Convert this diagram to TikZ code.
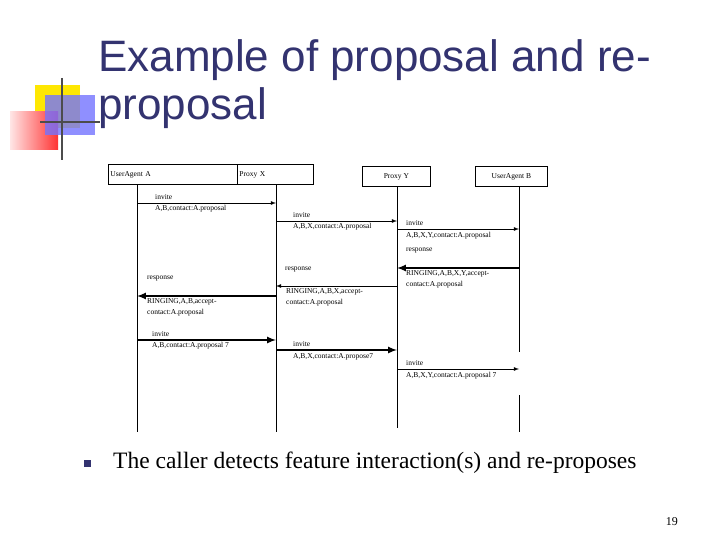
\documentclass[tikz,border=0pt]{standalone}
\usepackage{fontspec}
\setmainfont{Liberation Serif}
\newfontfamily\titlefont{Liberation Sans}
\begin{document}
\begin{tikzpicture}[x=1pt,y=-1pt,
  box/.style={draw,thick,minimum height=20pt,inner sep=2pt,font=\fontsize{7.5}{8}\selectfont},
  lab/.style={anchor=west,inner sep=0pt,font=\fontsize{7.5}{8}\selectfont},
  msg/.style={-latex,line width=0.8pt},
  tmsg/.style={-latex,line width=2pt},
  life/.style={line width=0.8pt}]
\useasboundingbox (0,0) rectangle (720,540);
% decoration
\fill[yellow!90!orange] (35,85) rectangle (80,128);
\shade[left color=red!10,right color=red!80] (10,112) rectangle (58,150);
\fill[blue!55!white,opacity=0.8] (45,95) rectangle (95,135);
\draw[line width=1.2pt,black!70] (62,78) -- (62,160);
\draw[line width=1.2pt,black!70] (40,122) -- (100,122);
\node[anchor=west,inner sep=0pt,font=\titlefont\fontsize{44}{48}\selectfont,text=blue!30!black!80] (t1) at (98,60) {Example of proposal and re-};
\node[anchor=west,inner sep=0pt,font=\titlefont\fontsize{44}{48}\selectfont,text=blue!30!black!80] (t2) at (98,108) {proposal};
% boxes
\node[box,anchor=north west,minimum width=129pt,text width=125pt,align=left] (A) at (108,164) {UserAgent A};
\node[box,anchor=north west,minimum width=76pt,text width=72pt,align=left] (X) at (237,164) {Proxy X};
\node[box,anchor=north west,minimum width=68pt] (Y) at (362,166) {Proxy Y};
\node[box,anchor=north west,minimum width=72pt] (B) at (475,166) {UserAgent B};
% lifelines
\coordinate (a0) at (137,185); \coordinate (a1) at (137,432);
\coordinate (x0) at (276,185); \coordinate (x1) at (276,432);
\coordinate (y0) at (397,187); \coordinate (y1) at (397,428);
\coordinate (b0) at (519,187); \coordinate (b1) at (519,352);
\coordinate (b2) at (519,395); \coordinate (b3) at (519,432);
\draw[life] (a0)--(a1); \draw[life] (x0)--(x1); \draw[life] (y0)--(y1);
\draw[life] (b0)--(b1); \draw[life] (b2)--(b3);
% messages
\foreach \n/\xa/\xb/\yy/\s in {m1/137/276/203/msg, m2/276/397/221/msg, m3/397/519/229/msg,
  m5/519/397/268/tmsg, m6/397/276/286/msg, m7/276/137/296/tmsg,
  m8/137/276/340/tmsg, m9/276/397/350/tmsg, m10/397/519/369/msg}{
  \coordinate (\n s) at (\xa,\yy); \coordinate (\n e) at (\xb,\yy);
  \draw[\s] (\n s) -- (\n e);}
\node[lab] (l1) at (155,197) {invite};
\node[lab] (l1b) at (155,209) {A,B,contact:A.proposal};
\node[lab] (l2) at (293,215) {invite};
\node[lab] (l2b) at (293,227) {A,B,X,contact:A.proposal};
\node[lab] (l3) at (406,223) {invite};
\node[lab] (l3b) at (406,236) {A,B,X,Y,contact:A.proposal};
\node[lab] (l4) at (406,251) {response};
\node[lab] (l5) at (406,274) {RINGING,A,B,X,Y,accept-};
\node[lab] (l5b) at (406,285) {contact:A.proposal};
\node[lab] (l6) at (285,270) {response};
\node[lab] (l6b) at (286,292) {RINGING,A,B,X,accept-};
\node[lab] (l6c) at (286,303) {contact:A.proposal};
\node[lab] (l7) at (147,279) {response};
\node[lab] (l7b) at (147,302) {RINGING,A,B,accept-};
\node[lab] (l7c) at (147,313) {contact:A.proposal};
\node[lab] (l8) at (152,334) {invite};
\node[lab] (l8b) at (152,346) {A,B,contact:A.proposal 7};
\node[lab] (l9) at (293,344) {invite};
\node[lab] (l9b) at (293,357) {A,B,X,contact:A.propose7};
\node[lab] (l10) at (406,363) {invite};
\node[lab] (l10b) at (406,376) {A,B,X,Y,contact:A.proposal 7};
% bullet
\fill[blue!30!black!80] (84,460) rectangle (91,467) node (bul) {};
\node[anchor=west,inner sep=0pt,font=\fontsize{23.5}{26}\selectfont] (txt) at (113,463) {The caller detects feature interaction(s) and re-proposes};
\node[anchor=east,inner sep=0pt,font=\fontsize{12}{14}\selectfont] (pg) at (678,522) {19};
\end{tikzpicture}
\end{document}
